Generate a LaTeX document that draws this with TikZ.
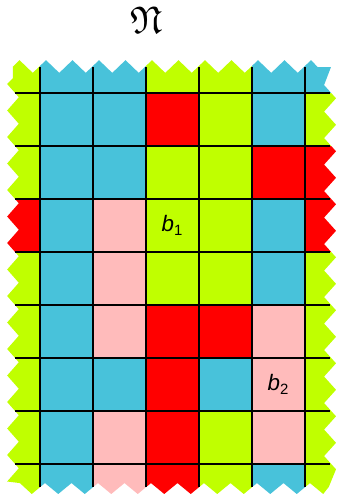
\documentclass[tikz,border=0pt]{standalone}
\usepackage{amsmath,amssymb}
\usepackage{fontspec}
\setmainfont{Liberation Sans}

\definecolor{G}{RGB}{192,255,0}
\definecolor{B}{RGB}{72,194,218}
\definecolor{R}{RGB}{255,0,0}
\definecolor{P}{RGB}{255,187,187}

\begin{document}
\begin{tikzpicture}[
  gridline/.style={black,line width=0.9pt},
  lbl/.style={font=\fontsize{12}{14}\selectfont}
]
\useasboundingbox (-0.755,-0.566) rectangle (5.585,8.755);

% cells, cut by the torn edge
\begin{scope}
\path[clip] (-0.387,7.62)
  \foreach \k in {0,...,10} { -- ({-0.137+0.5*\k},7.38) -- ({0.113+0.5*\k},7.62) }
  -- (5.24,7.49) -- (5.49,7.49)
  \foreach \k in {0,...,14} { -- (5.36,{7.15-0.5*\k}) -- (5.585,{6.9-0.5*\k}) }
  -- (5.45,-0.43)
  \foreach \k in {10,...,0} { -- ({0.344+0.5*\k},-0.566) -- ({0.094+0.5*\k},-0.36) }
  -- (-0.156,-0.566) -- (-0.38,-0.36)
  \foreach \k in {15,...,1} { -- (-0.62,{7.17-0.5*\k}) -- (-0.40,{7.42-0.5*\k}) }
  -- (-0.62,7.17) -- (-0.51,7.28) -- (-0.51,7.5) -- cycle;
\foreach \r/\cols in {7/{G,B,B,G,G,B,B}, 6/{G,B,B,R,G,B,G}, 5/{G,B,B,G,G,R,R},
    4/{R,B,P,G,G,B,R}, 3/{G,B,P,G,G,B,G}, 2/{G,B,P,R,R,P,G},
    1/{G,B,B,R,B,P,G}, 0/{G,B,P,R,G,P,G}, -1/{G,B,P,R,G,B,G}}
  \foreach \c [count=\i from -1] in \cols
    \fill[\c] (\i,\r) rectangle ++(1,1);
\end{scope}

% grid
\foreach \x in {0,...,5} \draw[gridline] (\x,-0.43) -- (\x,7.49);
\foreach \y in {0,...,7} \draw[gridline] (-0.47,\y) -- (5.47,\y);

\node (title) at (2,8.38) {\huge$\mathfrak{N}$};
\node[lbl] (b1) at (2.5,4.5) {\textit{b}\textsubscript{1}};
\node[lbl] (b2) at (4.5,1.5) {\textit{b}\textsubscript{2}};
\end{tikzpicture}
\end{document}
